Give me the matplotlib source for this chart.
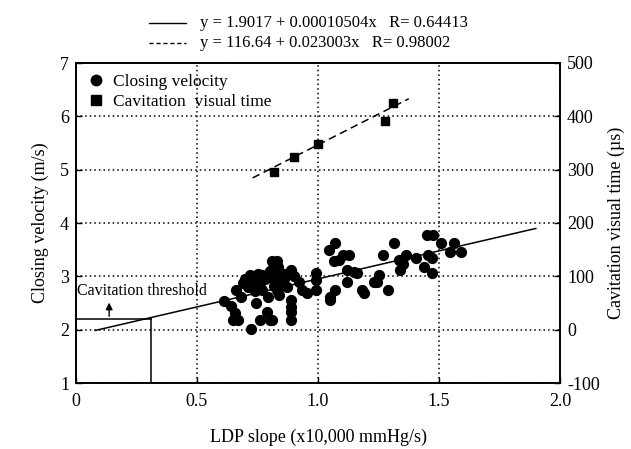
import numpy as np
import matplotlib
matplotlib.use("Agg")
import matplotlib.pyplot as plt
from matplotlib.lines import Line2D

plt.rcParams['font.family'] = ['Liberation Serif', 'DejaVu Serif']
plt.rcParams['axes.unicode_minus'] = False

# closing velocity vs LDP slope (x10,000 mmHg/s)
vel_x = [0.61, 0.64, 0.655, 0.65, 0.67, 0.66, 0.69, 0.70, 0.71, 0.72,
         0.725, 0.735, 0.74, 0.745, 0.75, 0.76, 0.76, 0.77, 0.78, 0.79,
         0.795, 0.80, 0.81, 0.81, 0.815, 0.815, 0.82, 0.82, 0.83, 0.835,
         0.84, 0.84, 0.84, 0.85, 0.86, 0.87, 0.89, 0.89, 0.89, 0.89,
         0.89, 0.90, 0.92, 0.935, 0.955, 0.99, 0.99, 0.99, 1.045, 1.07,
         1.065, 1.085, 1.105, 1.13, 1.05, 1.05, 1.07, 1.12, 1.15, 1.12,
         1.16, 1.18, 1.19, 1.23, 1.245, 1.25, 1.27, 1.29, 1.315, 1.335,
         1.35, 1.34, 1.365, 1.405, 1.44, 1.455, 1.47, 1.47, 1.45, 1.475,
         1.51, 1.545, 1.56, 1.59, 0.68, 0.73, 0.77, 0.80, 0.83, 0.86]
vel_y = [2.54, 2.45, 2.32, 2.18, 2.18, 2.74, 2.88, 2.95, 2.80, 3.02,
         2.02, 2.90, 2.72, 2.50, 3.05, 2.18, 2.88, 2.75, 2.95, 2.34,
         2.62, 2.18, 2.18, 3.28, 3.15, 3.05, 2.95, 2.82, 3.28, 3.18,
         3.05, 2.92, 2.65, 2.85, 2.95, 2.80, 3.12, 2.55, 2.42, 2.33,
         2.18, 3.00, 2.90, 2.75, 2.68, 3.06, 2.93, 2.74, 3.50, 3.62,
         3.28, 3.31, 3.40, 3.40, 2.62, 2.55, 2.74, 3.12, 3.09, 2.90,
         3.06, 2.74, 2.68, 2.90, 2.90, 3.03, 3.40, 2.74, 3.62, 3.31,
         3.24, 3.12, 3.40, 3.34, 3.18, 3.40, 3.34, 3.06, 3.78, 3.78,
         3.62, 3.46, 3.62, 3.46, 2.62, 2.85, 3.02, 3.10, 2.75, 3.05]

# cavitation visual time (us)
cav_x = [0.82, 0.90, 1.00, 1.275, 1.31]
cav_y = [296, 324, 348, 392, 425]

# linear fits, x in mmHg/s
fit_a = [1.9017, 116.64]
fit_b = [0.00010504, 0.023003]
fit_r = ['0.64413', '0.98002']
fit_x0 = [0.08, 0.73]
fit_x1 = [1.90, 1.375]

thr_x = 0.31
thr_y = 2.2

W, H = 631, 449
fig = plt.figure(figsize=(W / 100, H / 100), dpi=100)
ax = fig.add_axes([76 / W, 1 - 383 / H, 484 / W, 320 / H])
ax2 = ax.twinx()

ax.set_xlim(0, 2.0)
ax.set_ylim(1, 7)
ax2.set_ylim(-100, 500)

ax.grid(True, color='black', linestyle=(0, (1, 2)), linewidth=1.1)
ax.set_axisbelow(True)

ax.scatter(vel_x, vel_y, s=50, color='black', marker='o', zorder=3)
fx = np.linspace(fit_x0[0], fit_x1[0], 2)
ax.plot(fx, fit_a[0] + fit_b[0] * fx * 1e4, color='black', lw=1.1, zorder=3)

ax2.scatter(cav_x, cav_y, s=40, color='black', marker='s', zorder=3)
fx2 = np.linspace(fit_x0[1], fit_x1[1], 2)
ax2.plot(fx2, fit_a[1] + fit_b[1] * fx2 * 1e4, color='black', lw=1.1,
         linestyle=(0, (5, 3)), zorder=3)

# cavitation threshold box and arrow
ax.plot([0, thr_x], [thr_y, thr_y], color='black', lw=1.1)
ax.plot([thr_x, thr_x], [1, thr_y], color='black', lw=1.1)
ax.annotate('', xy=(0.137, 2.56), xytext=(0.137, thr_y),
            arrowprops=dict(arrowstyle='-|>', color='black', lw=1.0,
                            mutation_scale=10))
ax.text(0.005, 2.72, 'Cavitation threshold', fontsize=11.5, va='center', ha='left')

ax.set_xticks([0, 0.5, 1.0, 1.5, 2.0])
ax.set_xticklabels(['0', '0.5', '1.0', '1.5', '2.0'])
ax.set_yticks(range(1, 8))
ax2.set_yticks(range(-100, 501, 100))
for a in (ax, ax2):
    a.tick_params(direction='in', labelsize=13, length=4, width=1.0, pad=5)
    for s in a.spines.values():
        s.set_linewidth(1.2)
ax.tick_params(axis='x', pad=7)

ax.set_xlabel('LDP slope (x10,000 mmHg/s)', fontsize=13, labelpad=14)
ax.set_ylabel('Closing velocity (m/s)', fontsize=13, labelpad=8)
ax2.set_ylabel('Cavitation visual time (\u00b5s)', fontsize=13, labelpad=6)

h1 = Line2D([], [], color='black', marker='o', linestyle='none', markersize=7.5)
h2 = Line2D([], [], color='black', marker='s', linestyle='none', markersize=7)
ax2.legend([h1, h2], ['Closing velocity', 'Cavitation  visual time'],
           loc='upper left', bbox_to_anchor=(0.0, 1.0), frameon=False,
           fontsize=12.5, handletextpad=0.5, borderaxespad=0.25,
           labelspacing=0.2, handlelength=1.0)

# fit equations above the axes
rows_y = [23, 43]
styles = ['-', (0, (3, 2))]
for i in range(2):
    yy = 1 - rows_y[i] / H
    fig.add_artist(Line2D([149 / W, 186 / W], [yy, yy], color='black', lw=1.0,
                          linestyle=styles[i]))
    fig.text(200 / W, yy, 'y = %s + %sx   R= %s' % (fit_a[i], fit_b[i], fit_r[i]),
             fontsize=12, va='center', ha='left')

fig.savefig('out.png', dpi=100)
